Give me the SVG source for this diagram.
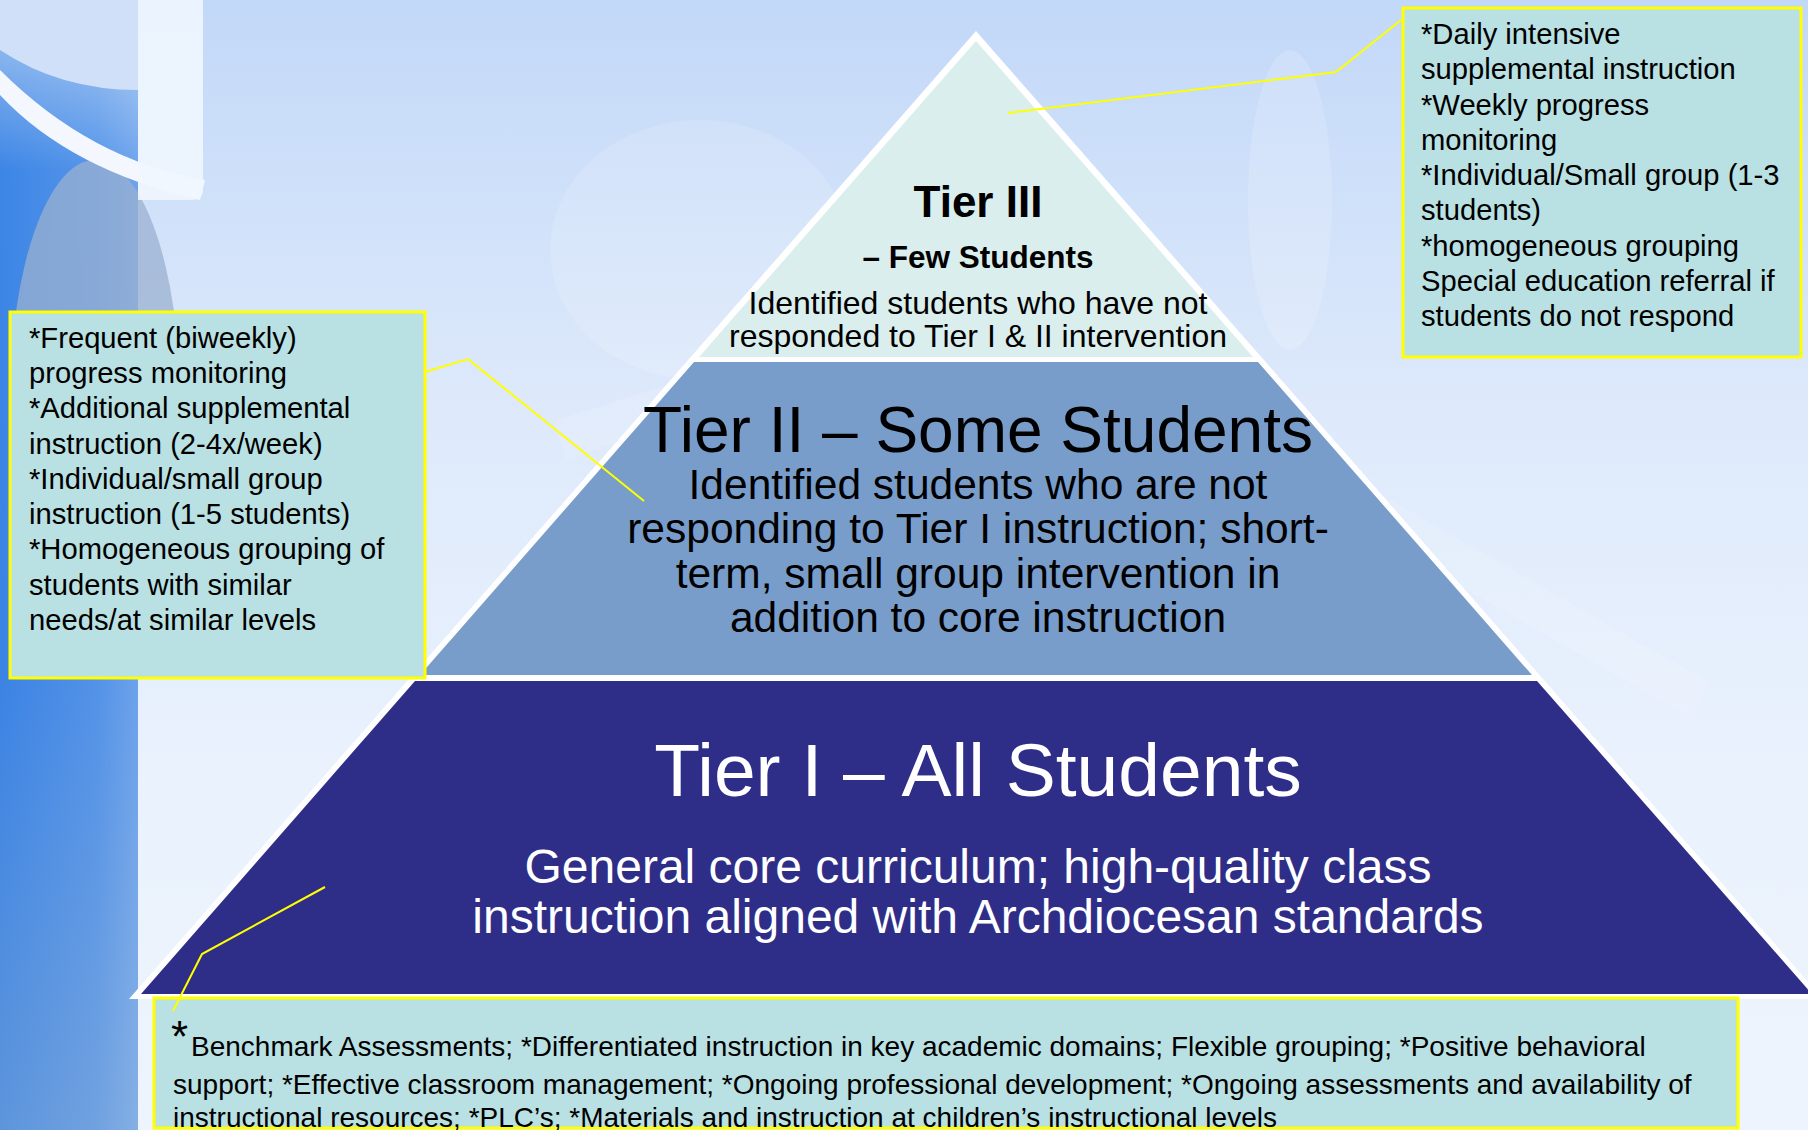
<svg xmlns="http://www.w3.org/2000/svg" width="1808" height="1130" viewBox="0 0 1808 1130">
<defs>
<linearGradient id="bg" x1="0" y1="0" x2="0" y2="1">
<stop offset="0" stop-color="#c2d8f8"/>
<stop offset="0.35" stop-color="#dde9fb"/>
<stop offset="0.7" stop-color="#eaf2fd"/>
<stop offset="1" stop-color="#edf4fd"/>
</linearGradient>
<linearGradient id="band" x1="0" y1="0" x2="0" y2="1">
<stop offset="0" stop-color="#a9c9f2"/>
<stop offset="0.15" stop-color="#3d86e6"/>
<stop offset="0.6" stop-color="#3b83e4"/>
<stop offset="1" stop-color="#5d95dc"/>
</linearGradient>
<linearGradient id="bandH" x1="0" y1="0" x2="1" y2="0">
<stop offset="0" stop-color="#ffffff" stop-opacity="0"/>
<stop offset="0.7" stop-color="#ffffff" stop-opacity="0.12"/>
<stop offset="1" stop-color="#ffffff" stop-opacity="0.25"/>
</linearGradient>
<style>
.box{fill:#b9e0e3;stroke:#ffff00;stroke-width:3}
.conn{fill:none;stroke:#ffff00;stroke-width:2}
.t{font-family:"Liberation Sans",Arial,sans-serif}
.bx{font-size:29.2px;fill:#000}
.bt{font-size:28px;fill:#000}
</style>
</defs>

<!-- background -->
<rect x="0" y="0" width="1808" height="1130" fill="url(#bg)"/>
<ellipse cx="700" cy="250" rx="150" ry="130" fill="#ffffff" opacity="0.14"/>
<ellipse cx="1290" cy="200" rx="42" ry="150" fill="#ffffff" opacity="0.16"/>
<path d="M560 440 L1000 300 L1700 700" fill="none" stroke="#ffffff" stroke-opacity="0.12" stroke-width="40"/>
<!-- left band -->
<rect x="0" y="0" width="138" height="1130" fill="url(#band)"/>
<rect x="0" y="0" width="138" height="1130" fill="url(#bandH)"/>
<ellipse cx="95" cy="400" rx="85" ry="240" fill="#9ab0d0" opacity="0.75"/>
<path d="M0 0 L138 0 L138 90 Q60 90 0 50 Z" fill="#cfe0f8"/>
<path d="M0 95 Q70 170 200 200 L205 180 Q90 160 0 70 Z" fill="#f4f8fe"/>
<path d="M138 0 L203 0 L203 190 Q203 200 190 200 L138 200 Z" fill="#f0f6fe" opacity="0.9"/>

<!-- pyramid -->
<g id="pyramid-outline">
<polygon points="976,31 129,999 1823,999" fill="#ffffff"/>
</g>
<g id="tier3">
<polygon points="976,41 699,357 1253,357" fill="#daeeee"/>
<text class="t" x="978" y="217" text-anchor="middle" font-size="44" font-weight="bold">Tier III</text>
<text class="t" x="978" y="268" text-anchor="middle" font-size="31.5" font-weight="bold">– Few Students</text>
<text class="t" x="978" y="314" text-anchor="middle" font-size="32">Identified students who have not</text>
<text class="t" x="978" y="347" text-anchor="middle" font-size="32">responded to Tier I &amp; II intervention</text>
</g>
<g id="tier2">
<polygon points="694,362 1258,362 1532,675 420,675" fill="#789dcb"/>
<text class="t" x="978" y="452" text-anchor="middle" font-size="64">Tier II – Some Students</text>
<text class="t" x="978" y="499" text-anchor="middle" font-size="42.5">Identified students who are not</text>
<text class="t" x="978" y="543" text-anchor="middle" font-size="42.5">responding to Tier I instruction; short-</text>
<text class="t" x="978" y="588" text-anchor="middle" font-size="42.5">term, small group intervention in</text>
<text class="t" x="978" y="632" text-anchor="middle" font-size="42.5">addition to core instruction</text>
</g>
<g id="tier1">
<polygon points="415,681 1537,681 1812,994 141,994" fill="#2e2e88"/>
<text class="t" x="978" y="796" text-anchor="middle" font-size="75" fill="#ffffff">Tier I – All Students</text>
<text class="t" x="978" y="883" text-anchor="middle" font-size="48" fill="#ffffff">General core curriculum; high-quality class</text>
<text class="t" x="978" y="933" text-anchor="middle" font-size="48" fill="#ffffff">instruction aligned with Archdiocesan standards</text>
</g>

<!-- callout boxes -->
<g id="box-tier2">
<rect class="box" x="10" y="312" width="415" height="366"/>
<text class="t bx" x="29" y="348">*Frequent (biweekly)</text>
<text class="t bx" x="29" y="383">progress monitoring</text>
<text class="t bx" x="29" y="418">*Additional supplemental</text>
<text class="t bx" x="29" y="454">instruction (2-4x/week)</text>
<text class="t bx" x="29" y="489">*Individual/small group</text>
<text class="t bx" x="29" y="524">instruction (1-5 students)</text>
<text class="t bx" x="29" y="559">*Homogeneous grouping of</text>
<text class="t bx" x="29" y="595">students with similar</text>
<text class="t bx" x="29" y="630">needs/at similar levels</text>
</g>
<g id="box-tier3">
<rect class="box" x="1403" y="8" width="398" height="349"/>
<text class="t bx" x="1421" y="44">*Daily intensive</text>
<text class="t bx" x="1421" y="79">supplemental instruction</text>
<text class="t bx" x="1421" y="115">*Weekly progress</text>
<text class="t bx" x="1421" y="150">monitoring</text>
<text class="t bx" x="1421" y="185">*Individual/Small group (1-3</text>
<text class="t bx" x="1421" y="220">students)</text>
<text class="t bx" x="1421" y="256">*homogeneous grouping</text>
<text class="t bx" x="1421" y="291">Special education referral if</text>
<text class="t bx" x="1421" y="326">students do not respond</text>
</g>
<g id="box-tier1">
<rect class="box" x="154" y="998" width="1584" height="130"/>
<text class="t" x="171" y="1052" font-size="44">*</text>
<text class="t bt" x="191" y="1056">Benchmark Assessments; *Differentiated instruction in key academic domains; Flexible grouping; *Positive behavioral</text>
<text class="t bt" x="173" y="1094">support; *Effective classroom management; *Ongoing professional development; *Ongoing assessments and availability of</text>
<text class="t bt" x="173" y="1127">instructional resources; *PLC’s; *Materials and instruction at children’s instructional levels</text>
</g>

<!-- connectors -->
<g id="connectors">
<polyline class="conn" points="1401,20 1336,72 1008,113"/>
<polyline class="conn" points="425,372 468,359 644,501"/>
<polyline class="conn" points="325,887 202,954 173,1011"/>
</g>
</svg>
